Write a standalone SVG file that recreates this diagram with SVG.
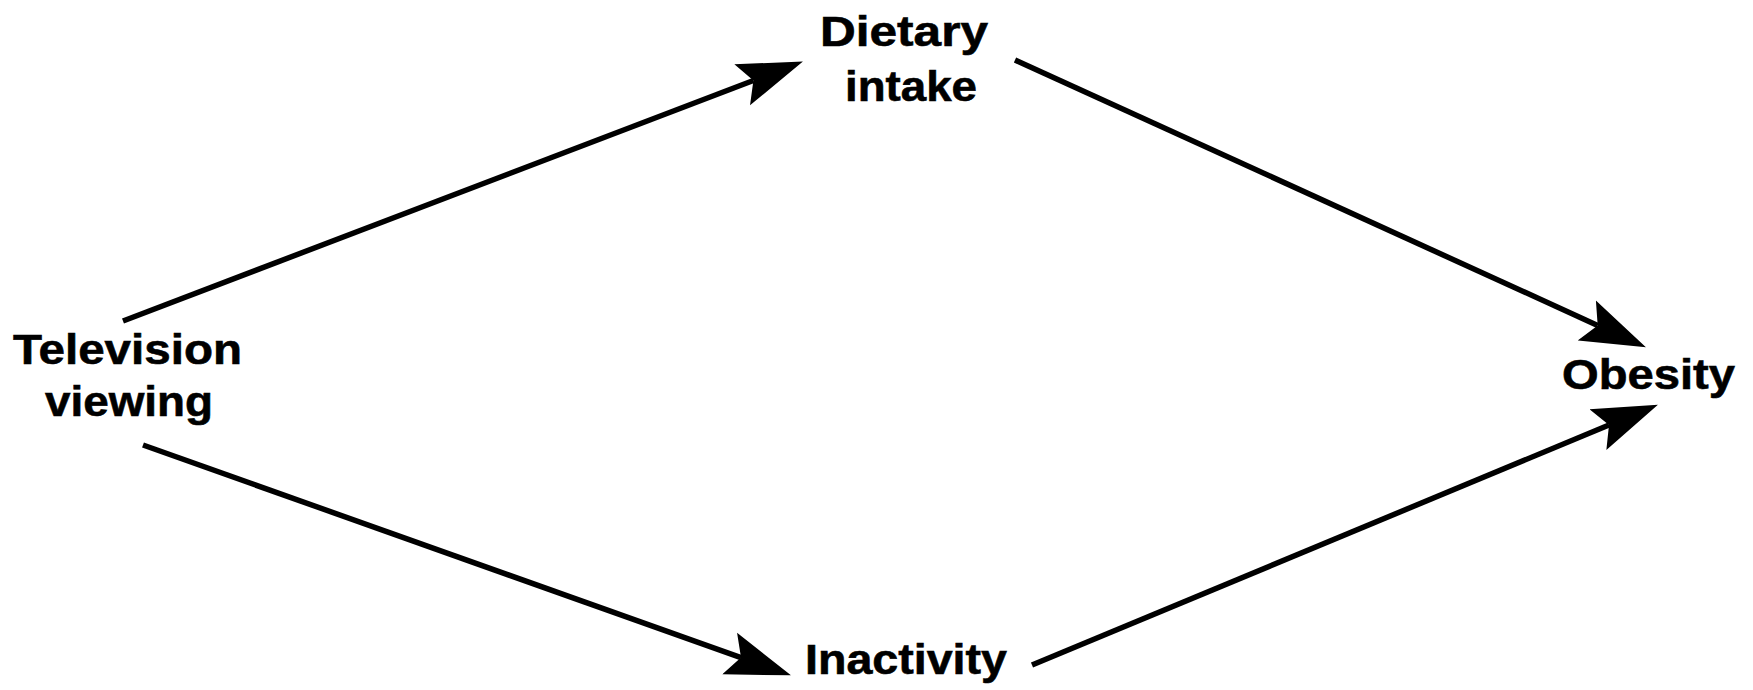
<svg xmlns="http://www.w3.org/2000/svg" width="1753" height="690" viewBox="0 0 1753 690">
<defs>
<style>
.lbl{font-family:"Liberation Sans",Arial,sans-serif;font-weight:bold;font-size:43px;fill:#000;stroke:#000;stroke-width:0.6}
.edge{stroke:#000;stroke-width:5.5;fill:none;marker-end:url(#ah)}
</style>
<marker id="ah" markerUnits="userSpaceOnUse" markerWidth="66" markerHeight="46" viewBox="0 0 66 46" refX="12" refY="23" orient="auto">
<path d="M0,1 L65,23 L0,45 L12,23 Z" fill="#000"/>
</marker>
</defs>
<rect width="1753" height="690" fill="#fff"/>
<g id="connectors">
<line class="edge" x1="123" y1="321" x2="753.4" y2="80.5"/>
<line class="edge" x1="1015" y1="60" x2="1597.7" y2="325.4"/>
<line class="edge" x1="143" y1="445" x2="741" y2="657.6"/>
<line class="edge" x1="1032" y1="665" x2="1609" y2="425"/>
</g>
<g id="tv"><text class="lbl" x="13" y="364" textLength="229" lengthAdjust="spacingAndGlyphs">Television</text><text class="lbl" x="45" y="416" textLength="168" lengthAdjust="spacingAndGlyphs">viewing</text></g>
<g id="diet"><text class="lbl" x="820" y="46" textLength="168" lengthAdjust="spacingAndGlyphs">Dietary</text><text class="lbl" x="845" y="101" textLength="132" lengthAdjust="spacingAndGlyphs">intake</text></g>
<g id="inact"><text class="lbl" x="805" y="674" textLength="202" lengthAdjust="spacingAndGlyphs">Inactivity</text></g>
<g id="obes"><text class="lbl" x="1562" y="389" textLength="173" lengthAdjust="spacingAndGlyphs">Obesity</text></g>
</svg>
